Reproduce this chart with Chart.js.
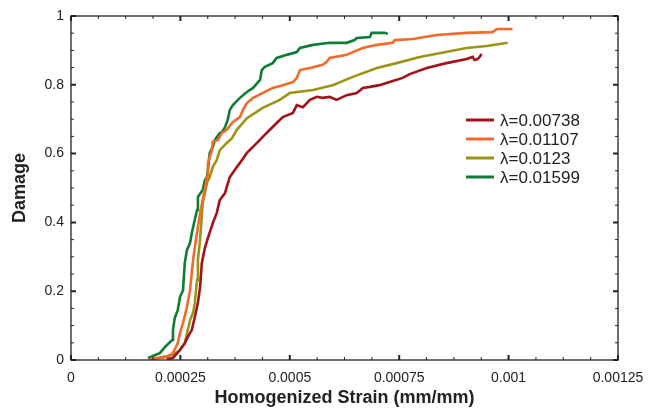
<!DOCTYPE html>
<html>
<head>
<meta charset="utf-8">
<script src="https://cdn.jsdelivr.net/npm/chart.js@4/dist/chart.umd.min.js"></script>
<style>
  html, body { margin: 0; padding: 0; background: #fff; }
  #wrap { width: 649px; height: 411px; }
</style>
</head>
<body>
<div id="wrap"><canvas id="c" width="649" height="411"></canvas></div>
<script>
// curvas de daño vs deformación homogeneizada
const labels = ['λ=0.00738', 'λ=0.01107', 'λ=0.0123', 'λ=0.01599'];
const colores = ['#a3121a', '#f26a2a', '#9b9415', '#0d7d33'];

const strainA = [0.000219,0.000233,0.000249,0.000260,0.000267,0.000276,0.000283,0.000290,0.000295,0.000299,0.000306,0.000313,0.000324,0.000333,0.000340,0.000352,0.000356,0.000363,0.000379,0.000386,0.000402,0.000425,0.000447,0.000470,0.000484,0.000507,0.000516,0.000530,0.000546,0.000562,0.000575,0.000591,0.000607,0.000630,0.000653,0.000667,0.000683,0.000705,0.000728,0.000758,0.000774,0.000813,0.000858,0.000904,0.000918,0.000922,0.000929,0.000934,0.000938];
const damageA = [0.003,0.006,0.029,0.049,0.067,0.087,0.125,0.166,0.212,0.282,0.326,0.355,0.398,0.427,0.465,0.485,0.503,0.532,0.561,0.573,0.602,0.631,0.660,0.689,0.706,0.718,0.741,0.735,0.756,0.765,0.762,0.765,0.756,0.770,0.776,0.791,0.794,0.799,0.808,0.820,0.831,0.849,0.863,0.875,0.881,0.872,0.875,0.881,0.890];

const strainB = [0.000180,0.000219,0.000233,0.000244,0.000249,0.000256,0.000265,0.000272,0.000276,0.000279,0.000283,0.000288,0.000295,0.000301,0.000311,0.000313,0.000322,0.000324,0.000336,0.000345,0.000356,0.000370,0.000386,0.000393,0.000402,0.000416,0.000438,0.000461,0.000484,0.000507,0.000516,0.000523,0.000546,0.000575,0.000584,0.000591,0.000630,0.000644,0.000667,0.000676,0.000699,0.000735,0.000740,0.000781,0.000836,0.000904,0.000963,0.000973,0.001009];
const damageB = [0.003,0.009,0.020,0.049,0.078,0.108,0.154,0.203,0.253,0.291,0.328,0.369,0.427,0.465,0.532,0.573,0.610,0.634,0.640,0.660,0.669,0.692,0.706,0.727,0.747,0.762,0.776,0.791,0.799,0.808,0.820,0.843,0.849,0.858,0.866,0.878,0.887,0.895,0.907,0.910,0.916,0.922,0.930,0.933,0.945,0.951,0.953,0.962,0.962];

const strainC = [0.000180,0.000210,0.000233,0.000249,0.000260,0.000267,0.000272,0.000279,0.000283,0.000288,0.000290,0.000295,0.000301,0.000311,0.000317,0.000324,0.000333,0.000340,0.000356,0.000368,0.000379,0.000402,0.000438,0.000477,0.000500,0.000553,0.000598,0.000644,0.000699,0.000744,0.000797,0.000842,0.000904,0.000950,0.000998];
const damageC = [0.000,0.009,0.015,0.029,0.049,0.087,0.116,0.137,0.166,0.233,0.291,0.349,0.456,0.515,0.532,0.561,0.581,0.610,0.631,0.645,0.669,0.703,0.733,0.756,0.776,0.785,0.799,0.823,0.849,0.863,0.881,0.892,0.907,0.913,0.922];

const strainD = [0.000176,0.000203,0.000215,0.000231,0.000233,0.000237,0.000244,0.000249,0.000256,0.000260,0.000265,0.000272,0.000276,0.000288,0.000290,0.000301,0.000306,0.000311,0.000317,0.000324,0.000329,0.000340,0.000345,0.000352,0.000358,0.000363,0.000370,0.000386,0.000402,0.000416,0.000432,0.000436,0.000443,0.000461,0.000470,0.000493,0.000516,0.000523,0.000553,0.000591,0.000630,0.000648,0.000653,0.000683,0.000687,0.000717,0.000724];
const damageD = [0.006,0.020,0.038,0.058,0.087,0.122,0.145,0.183,0.203,0.282,0.320,0.340,0.369,0.436,0.474,0.494,0.523,0.532,0.602,0.619,0.640,0.660,0.663,0.677,0.698,0.727,0.741,0.762,0.779,0.791,0.814,0.843,0.852,0.863,0.878,0.887,0.895,0.907,0.916,0.922,0.922,0.930,0.936,0.939,0.951,0.951,0.948];

const xTicks = [0, 0.00025, 0.0005, 0.00075, 0.001, 0.00125];
const xTickLabels = ['0', '0.00025', '0.0005', '0.00075', '0.001', '0.00125'];
const yTicks = [0, 0.2, 0.4, 0.6, 0.8, 1];
const yTickLabels = ['0', '0.2', '0.4', '0.6', '0.8', '1'];

const series = [[strainA, damageA], [strainB, damageB], [strainC, damageC], [strainD, damageD]];

const datasets = series.map(([xs, ys], i) => ({
  label: labels[i],
  data: xs.map((x, k) => ({ x: x, y: ys[k] })),
  borderColor: colores[i],
  backgroundColor: colores[i],
  borderWidth: 2.6,
  pointRadius: 0,
  showLine: true,
  tension: 0
}));

// marco y ticks hacia adentro (mayores y menores) en los cuatro lados
const marcoPlugin = {
  id: 'marco',
  afterDraw(chart) {
    const { ctx, chartArea: a, scales } = chart;
    ctx.save();
    ctx.strokeStyle = '#222';
    ctx.lineWidth = 1.3;
    ctx.strokeRect(a.left, a.top, a.right - a.left, a.bottom - a.top);
    for (let i = 0; i <= 20; i++) {
      const px = scales.x.getPixelForValue(i * 0.0000625);
      const len = (i % 4 === 0) ? 5 : 3;
      ctx.lineWidth = (i % 4 === 0) ? 2 : 1;
      ctx.beginPath();
      ctx.moveTo(px, a.bottom); ctx.lineTo(px, a.bottom - len);
      ctx.moveTo(px, a.top); ctx.lineTo(px, a.top + len);
      ctx.stroke();
    }
    for (let i = 0; i <= 20; i++) {
      const py = scales.y.getPixelForValue(i * 0.05);
      const len = (i % 4 === 0) ? 5 : 3;
      ctx.lineWidth = (i % 4 === 0) ? 2 : 1;
      ctx.beginPath();
      ctx.moveTo(a.left, py); ctx.lineTo(a.left + len, py);
      ctx.moveTo(a.right, py); ctx.lineTo(a.right - len, py);
      ctx.stroke();
    }
    ctx.restore();
  }
};

// leyenda dentro del área del gráfico
const leyendaPlugin = {
  id: 'leyenda',
  afterDraw(chart) {
    const ctx = chart.ctx;
    ctx.save();
    ctx.font = '17px "Liberation Sans", Arial, sans-serif';
    ctx.textBaseline = 'middle';
    chart.data.datasets.forEach((ds, i) => {
      const y = 120 + i * 19;
      ctx.strokeStyle = ds.borderColor;
      ctx.lineWidth = 3;
      ctx.beginPath();
      ctx.moveTo(466, y); ctx.lineTo(494, y);
      ctx.stroke();
      ctx.fillStyle = '#222';
      ctx.fillText(ds.label, 500, y + 1);
    });
    ctx.restore();
  }
};

const fuenteTicks = { family: '"Liberation Sans", Arial, sans-serif', size: 14 };
const fuenteTitulo = { family: '"Liberation Sans", Arial, sans-serif', size: 18, weight: 'bold' };

new Chart(document.getElementById('c'), {
  type: 'scatter',
  data: { datasets: datasets },
  options: {
    responsive: false,
    animation: false,
    layout: { padding: { left: 0, right: 31, top: 16, bottom: 0 } },
    plugins: { legend: { display: false }, tooltip: { enabled: false } },
    scales: {
      x: {
        type: 'linear',
        min: 0, max: 0.00125,
        border: { display: false },
        grid: { display: false, drawTicks: false },
        afterBuildTicks: (s) => { s.ticks = xTicks.map(v => ({ value: v })); },
        afterFit: (s) => { s.height = 51; s.paddingRight = 0; s.paddingLeft = 0; },
        ticks: {
          color: '#222', font: fuenteTicks, padding: 10, maxRotation: 0,
          callback: (v) => { const k = xTicks.indexOf(v); return k >= 0 ? xTickLabels[k] : ''; }
        },
        title: { display: true, text: 'Homogenized Strain (mm/mm)', color: '#222', font: fuenteTitulo, padding: { top: 2, bottom: 2 } }
      },
      y: {
        type: 'linear',
        min: 0, max: 1,
        border: { display: false },
        grid: { display: false, drawTicks: false },
        afterBuildTicks: (s) => { s.ticks = yTicks.map(v => ({ value: v })); },
        afterFit: (s) => { s.width = 71; s.paddingTop = 0; s.paddingBottom = 0; },
        ticks: {
          color: '#222', font: fuenteTicks, padding: 7,
          callback: (v) => { const k = yTicks.indexOf(v); return k >= 0 ? yTickLabels[k] : ''; }
        },
        title: { display: true, text: 'Damage', color: '#222', font: fuenteTitulo, padding: { top: 9, bottom: 0 } }
      }
    }
  },
  plugins: [marcoPlugin, leyendaPlugin]
});
</script>
</body>
</html>
